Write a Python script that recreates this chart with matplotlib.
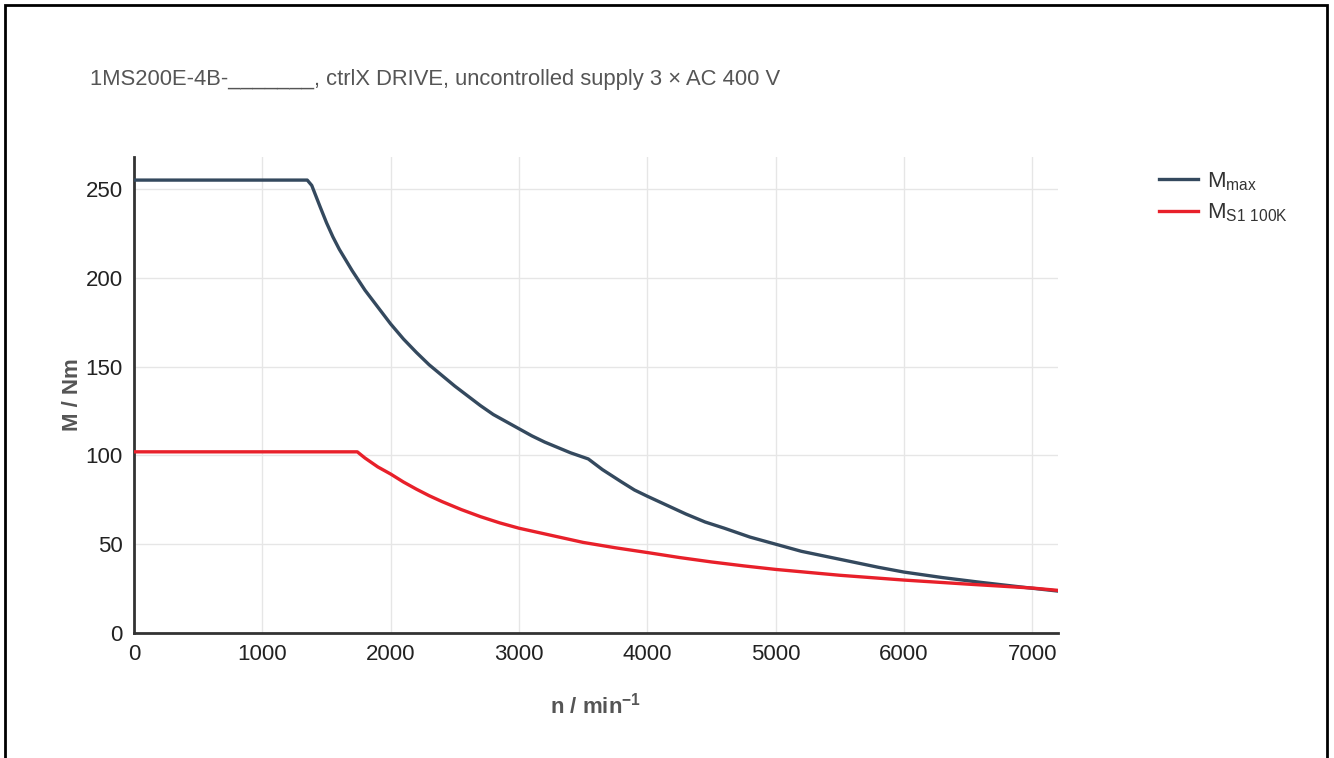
import matplotlib
matplotlib.use("Agg")
import matplotlib.pyplot as plt
from matplotlib.patches import Rectangle

plt.rcParams['font.family'] = ['Liberation Sans', 'DejaVu Sans']
plt.rcParams['mathtext.fontset'] = 'custom'
plt.rcParams['mathtext.rm'] = 'Liberation Sans'
plt.rcParams['mathtext.bf'] = 'Liberation Sans:bold'

title = "1MS200E-4B-_______, ctrlX DRIVE, uncontrolled supply 3 \u00d7 AC 400 V"

# speed / torque values
mmax_n = [0, 1350, 1385, 1450, 1500, 1550, 1600, 1650, 1700, 1800, 1900, 2000,
          2100, 2200, 2300, 2400, 2500, 2600, 2700, 2800, 2900, 3000, 3100,
          3200, 3300, 3400, 3540, 3650, 3800, 3900, 4000, 4150, 4300, 4450,
          4600, 4800, 5000, 5200, 5400, 5600, 5800, 6000, 6300, 6600, 6900, 7200]
mmax_m = [255, 255, 252, 240, 231, 223, 216, 210, 204, 193, 183.5, 174,
          165.5, 158, 151, 145, 139, 133.5, 128, 123, 119, 115, 111,
          107.5, 104.5, 101.5, 98, 92, 85, 80.5, 77, 72, 67, 62.5,
          59, 54, 50, 46, 43, 40, 37, 34.3, 31.2, 28.5, 26, 23.6]

ms1_n = [0, 1740, 1800, 1900, 2000, 2100, 2200, 2300, 2400, 2550, 2700, 2850,
         3000, 3250, 3500, 3750, 4000, 4250, 4500, 4750, 5000, 5500, 6000,
         6500, 7000, 7200]
ms1_m = [102, 102, 98.5, 93.5, 89.5, 85, 81, 77.3, 74, 69.5, 65.5, 62,
         59, 55, 51, 48, 45.3, 42.5, 40, 37.8, 35.8, 32.5, 29.8,
         27.5, 25.3, 24]

xticks = [0, 1000, 2000, 3000, 4000, 5000, 6000, 7000]
yticks = [0, 50, 100, 150, 200, 250]

fig = plt.figure(figsize=(13.34, 7.58), dpi=100)
ax = fig.add_axes([134 / 1334, 1 - 633 / 758, (1058 - 134) / 1334, (633 - 157) / 758])

ax.plot(mmax_n, mmax_m, color='#34495e', lw=2.4, label=r'$\mathregular{M_{max}}$',
        solid_joinstyle='round', zorder=3)
ax.plot(ms1_n, ms1_m, color='#e8202a', lw=2.4, label=r'$\mathregular{M_{S1\ 100K}}$',
        solid_joinstyle='round', zorder=3)

ax.set_xlim(0, 7200)
ax.set_ylim(0, 268)
ax.set_xticks(xticks)
ax.set_yticks(yticks)
ax.grid(True, color='#e6e6e6', lw=1)
ax.set_axisbelow(True)
for s in ['top', 'right']:
    ax.spines[s].set_visible(False)
for s in ['left', 'bottom']:
    ax.spines[s].set_color('#333333')
    ax.spines[s].set_linewidth(2)
ax.tick_params(length=0, labelsize=16, colors='#222222', pad=8)

ax.set_xlabel(r'n / min$^{\mathbf{-1}}$', fontsize=16, fontweight='bold', color='#555555')
ax.set_ylabel('M / Nm', fontsize=16, fontweight='bold', color='#555555')
ax.xaxis.set_label_coords(0.5, -0.126)
ax.yaxis.set_label_coords(-0.055, 0.5)

fig.text(90 / 1334, 1 - 80 / 758, title, fontsize=15.8, color='#555555', va='center')

fig.legend(loc='upper left', bbox_to_anchor=(1139 / 1334, 1 - 150 / 758),
           frameon=False, fontsize=16, handlelength=1.75, handletextpad=0.4,
           labelspacing=0.4, labelcolor='#333333')

fig.add_artist(Rectangle((5 / 1334, -0.01), 1322 / 1334, 1 - 5 / 758 + 0.01,
                         transform=fig.transFigure, fill=False, lw=2, ec='black'))

fig.savefig('out.png', dpi=100)
